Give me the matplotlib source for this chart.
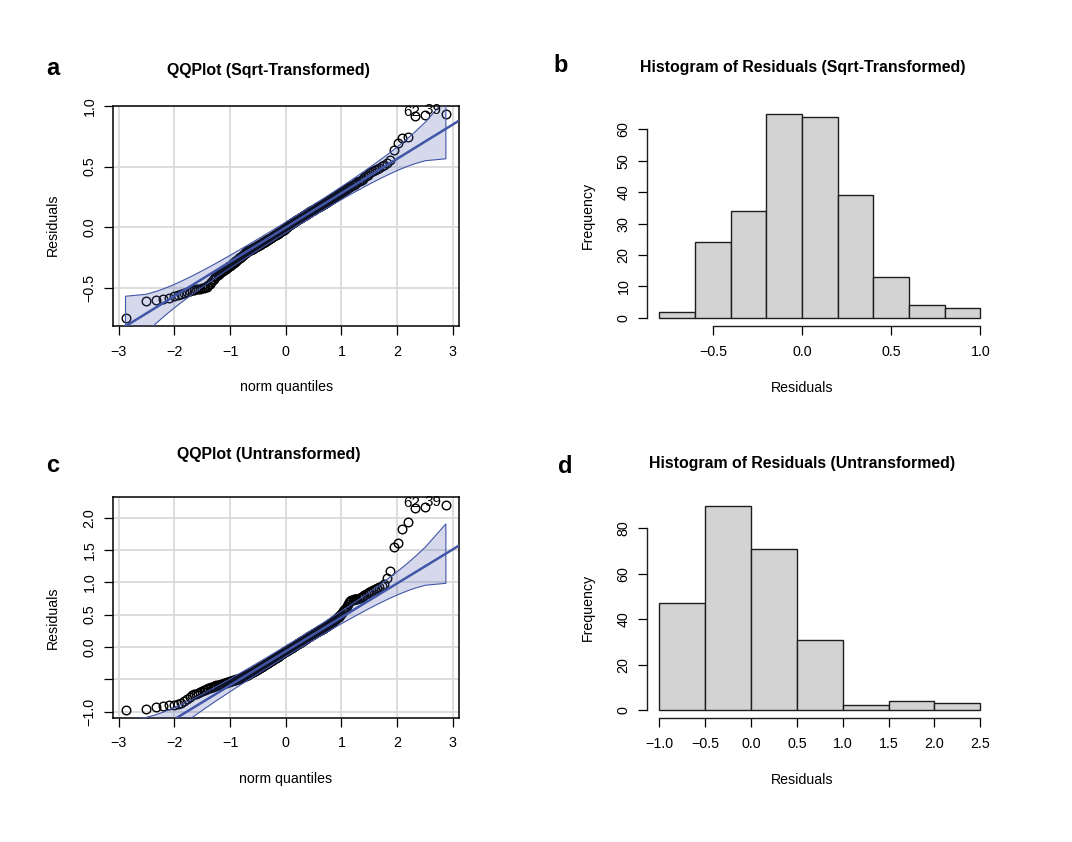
import numpy as np
import matplotlib
matplotlib.use('Agg')
import matplotlib.pyplot as plt
from matplotlib.colors import to_rgba
from matplotlib.ticker import FuncFormatter
from statistics import NormalDist

plt.rcParams['font.family'] = ['Liberation Sans', 'DejaVu Sans']

# ---------------- data (sorted residuals) ----------------
resid_sqrt = [
    -0.746, -0.607,
    -0.598, -0.592, -0.582, -0.570, -0.560, -0.550, -0.540, -0.532, -0.526, -0.520,
    -0.515, -0.511, -0.508, -0.505, -0.502, -0.498, -0.494, -0.488, -0.478, -0.466,
    -0.452, -0.438, -0.422, -0.408,
    -0.398, -0.391, -0.384, -0.377, -0.370, -0.364, -0.358, -0.352, -0.346, -0.340,
    -0.334, -0.328, -0.322, -0.316, -0.310, -0.304, -0.298, -0.292, -0.286, -0.280,
    -0.274, -0.268, -0.262, -0.257, -0.252, -0.247, -0.242, -0.237, -0.232, -0.227,
    -0.222, -0.216, -0.208, -0.201,
    -0.198, -0.195, -0.192, -0.190, -0.187, -0.184, -0.181, -0.178, -0.175, -0.172,
    -0.169, -0.166, -0.163, -0.160, -0.157, -0.154, -0.151, -0.148, -0.145, -0.142,
    -0.139, -0.136, -0.133, -0.130, -0.127, -0.124, -0.121, -0.118, -0.115, -0.112,
    -0.109, -0.106, -0.103, -0.100, -0.097, -0.094, -0.091, -0.088, -0.085, -0.082,
    -0.079, -0.076, -0.073, -0.070, -0.067, -0.064, -0.061, -0.058, -0.055, -0.052,
    -0.049, -0.046, -0.043, -0.040, -0.037, -0.034, -0.031, -0.028, -0.025, -0.022,
    -0.019, -0.016, -0.013, -0.010, -0.006,
    0.003, 0.006, 0.009, 0.012, 0.015, 0.019, 0.022, 0.025, 0.028, 0.031,
    0.034, 0.037, 0.040, 0.043, 0.046, 0.049, 0.052, 0.056, 0.059, 0.062,
    0.065, 0.068, 0.071, 0.074, 0.077, 0.080, 0.083, 0.086, 0.089, 0.093,
    0.096, 0.099, 0.102, 0.105, 0.108, 0.111, 0.114, 0.117, 0.120, 0.123,
    0.127, 0.130, 0.133, 0.136, 0.139, 0.142, 0.145, 0.148, 0.151, 0.154,
    0.157, 0.161, 0.164, 0.167, 0.170, 0.173, 0.176, 0.179, 0.182, 0.185,
    0.188, 0.191, 0.194, 0.198,
    0.203, 0.207, 0.211, 0.215, 0.219, 0.223, 0.227, 0.231, 0.235, 0.240,
    0.244, 0.249, 0.253, 0.258, 0.262, 0.267, 0.272, 0.277, 0.282, 0.287,
    0.292, 0.297, 0.302, 0.307, 0.312, 0.318, 0.323, 0.329, 0.334, 0.340,
    0.346, 0.352, 0.358, 0.364, 0.370, 0.377, 0.384, 0.391, 0.398,
    0.410, 0.422, 0.433, 0.443, 0.452, 0.461, 0.470, 0.480, 0.490, 0.502,
    0.515, 0.530, 0.552,
    0.640, 0.690, 0.739, 0.745,
    0.915, 0.921, 0.934,
]

resid_raw = [
    -0.968, -0.955, -0.935, -0.908, -0.900, -0.893, -0.880, -0.862, -0.830, -0.800,
    -0.770, -0.750, -0.735, -0.720, -0.705, -0.690, -0.678, -0.668, -0.660, -0.648,
    -0.640, -0.632, -0.624, -0.615, -0.608, -0.602, -0.596, -0.591, -0.586, -0.582,
    -0.577, -0.572, -0.567, -0.562, -0.557, -0.552, -0.547, -0.542, -0.537, -0.532,
    -0.527, -0.522, -0.518, -0.514, -0.510, -0.506, -0.502,
    -0.498, -0.493, -0.488, -0.483, -0.478, -0.473, -0.468, -0.463, -0.458, -0.452,
    -0.447, -0.442, -0.437, -0.432, -0.427,
    -0.421, -0.415, -0.409, -0.404, -0.398, -0.392, -0.386, -0.380, -0.375, -0.369,
    -0.363, -0.357, -0.351, -0.346, -0.340, -0.334, -0.328, -0.322, -0.317, -0.311,
    -0.305, -0.299, -0.293, -0.288, -0.282, -0.276, -0.270, -0.264, -0.259, -0.253,
    -0.247, -0.241, -0.235, -0.230, -0.224, -0.218, -0.212, -0.206, -0.201, -0.195,
    -0.189, -0.183, -0.177, -0.172, -0.166, -0.160, -0.154, -0.148, -0.143, -0.137,
    -0.131, -0.125, -0.119, -0.114, -0.108, -0.102, -0.096, -0.090, -0.085, -0.079,
    -0.073, -0.067,
    -0.062, -0.057, -0.052, -0.047, -0.042, -0.037, -0.032, -0.027, -0.022, -0.017,
    -0.012, -0.007, -0.002,
    0.004, 0.010, 0.016, 0.021, 0.027, 0.033, 0.039, 0.045, 0.051, 0.057,
    0.062, 0.068, 0.074, 0.080, 0.086, 0.092, 0.098, 0.103, 0.109, 0.115,
    0.121, 0.127, 0.133, 0.139, 0.144, 0.150, 0.156, 0.162, 0.168, 0.174,
    0.180, 0.185, 0.191, 0.197, 0.203, 0.209, 0.215, 0.220, 0.226, 0.232,
    0.238, 0.244, 0.250, 0.256, 0.261, 0.267, 0.273, 0.279, 0.285,
    0.292, 0.299, 0.306, 0.313, 0.321, 0.329, 0.337, 0.345, 0.354, 0.363,
    0.372, 0.381, 0.391, 0.401, 0.411, 0.422, 0.433, 0.444, 0.456, 0.468,
    0.482, 0.497,
    0.510, 0.530, 0.550, 0.570, 0.590, 0.610, 0.630, 0.660, 0.690, 0.710,
    0.725, 0.730, 0.735, 0.738, 0.742, 0.746, 0.750, 0.760, 0.775, 0.790,
    0.805, 0.820, 0.835, 0.850, 0.865, 0.880, 0.895, 0.910, 0.930, 0.950,
    0.970,
    1.074, 1.177,
    1.552, 1.605, 1.826, 1.940,
    2.145, 2.170, 2.189,
]

# labelled (most extreme) observations: rank in sorted order -> observation id
id_ranks = [247, 248]
id_labels = ['62', '39']

hist_sqrt_edges = [-0.8, -0.6, -0.4, -0.2, 0.0, 0.2, 0.4, 0.6, 0.8, 1.0]
hist_sqrt_counts = [2, 24, 34, 65, 64, 39, 13, 4, 3]
hist_raw_edges = [-1.0, -0.5, 0.0, 0.5, 1.0, 1.5, 2.0, 2.5]
hist_raw_counts = [47, 90, 71, 31, 2, 4, 3]

qq_xticks = [-3, -2, -1, 0, 1, 2, 3]
qq_sqrt_yticks = [-0.5, 0.0, 0.5, 1.0]
qq_raw_yticks = [-1.0, -0.5, 0.0, 0.5, 1.0, 1.5, 2.0]
qq_raw_hidden_labels = [-0.5]
hist_sqrt_xticks = [-0.5, 0.0, 0.5, 1.0]
hist_sqrt_yticks = [0, 10, 20, 30, 40, 50, 60]
hist_raw_xticks = [-1.0, -0.5, 0.0, 0.5, 1.0, 1.5, 2.0, 2.5]
hist_raw_yticks = [0, 20, 40, 60, 80]

titles = ['QQPlot (Sqrt-Transformed)', 'Histogram of Residuals (Sqrt-Transformed)',
          'QQPlot (Untransformed)', 'Histogram of Residuals (Untransformed)']

# ---------------- style ----------------
W, H = 1072, 842
LINE = '#4256a8'
GRID = '#dadada'
TICK_FS = 10.3
LAB_FS = 10.2
TITLE_FS = 11.4
LET_FS = 17

fig = plt.figure(figsize=(W / 100, H / 100), dpi=100)


def rect(l, t, r, b):
    return [l / W, 1 - b / H, (r - l) / W, (b - t) / H]


def fx(x):
    return x / W


def fy(y):
    return 1 - y / H


def minus_fmt(fmt):
    return FuncFormatter(lambda v, p: fmt.format(v).replace('-', '\u2212'))


def quantile7(x, p):
    x = np.sort(x)
    h = (len(x) - 1) * p
    lo = int(np.floor(h))
    hi = min(lo + 1, len(x) - 1)
    return x[lo] + (h - lo) * (x[hi] - x[lo])


def style_ticks(ax):
    ax.tick_params(direction='out', length=6.5, width=0.9, labelsize=TICK_FS,
                   pad=7, colors='black')
    ax.tick_params(axis='y', labelrotation=90, pad=5)
    for lbl in ax.get_yticklabels():
        lbl.set_va('center')


def qqpanel(ax, resid, yticks, hidden=()):
    y = np.sort(np.asarray(resid, dtype=float))
    n = len(y)
    P = (np.arange(1, n + 1) - 0.5) / n
    nd = NormalDist()
    z = np.array([nd.inv_cdf(p) for p in P])
    dens = np.array([nd.pdf(v) for v in z])
    # quartile reference line
    q1, q3 = quantile7(y, 0.25), quantile7(y, 0.75)
    z1, z3 = nd.inv_cdf(0.25), nd.inv_cdf(0.75)
    b = (q3 - q1) / (z3 - z1)
    a = q1 - b * z1
    zz = nd.inv_cdf(0.975)
    se = (b / dens) * np.sqrt(P * (1 - P) / n)
    fit = a + b * z
    upper, lower = fit + zz * se, fit - zz * se

    xr = z.max() - z.min()
    yr = y.max() - y.min()
    ax.set_xlim(z.min() - 0.04 * xr, z.max() + 0.04 * xr)
    ax.set_ylim(y.min() - 0.04 * yr, y.max() + 0.04 * yr)
    ax.set_xticks(qq_xticks)
    ax.set_yticks(yticks)
    ax.xaxis.set_major_formatter(minus_fmt('{:.0f}'))
    ax.yaxis.set_major_formatter(FuncFormatter(
        lambda v, p: '' if any(abs(v - h) < 1e-9 for h in hidden)
        else '{:.1f}'.format(v).replace('-', '\u2212')))
    ax.grid(True, color=GRID, lw=1.3, zorder=0)
    ax.set_axisbelow(True)

    ax.plot(z, y, 'o', mfc='none', mec='black', ms=6.2, mew=1.0, zorder=2)
    ax.axline((0, a), slope=b, color=LINE, lw=1.8, zorder=3)
    ax.fill(np.r_[z, z[::-1]], np.r_[upper, lower[::-1]],
            facecolor=to_rgba(LINE, 0.22), edgecolor=LINE, lw=0.8, zorder=4)
    for rank, lab in zip(id_ranks, id_labels):
        ax.annotate(lab, (z[rank - 1], y[rank - 1]), xytext=(-3.5, 2.5),
                    textcoords='offset points', ha='right', va='center',
                    fontsize=11, zorder=5, annotation_clip=False)
    for s in ax.spines.values():
        s.set_linewidth(1.1)
        s.set_color('black')
    style_ticks(ax)


def histpanel(ax, edges, counts, xticks, yticks):
    edges = np.asarray(edges, dtype=float)
    counts = np.asarray(counts, dtype=float)
    ax.bar(edges[:-1], counts, width=np.diff(edges), align='edge',
           color='#d3d3d3', edgecolor='#1e1e1e', lw=1.0)
    xr = edges[-1] - edges[0]
    ax.set_xlim(edges[0] - 0.04 * xr, edges[-1] + 0.04 * xr)
    ym = counts.max()
    ax.set_ylim(-0.04 * ym, ym * 1.04)
    for s in ['top', 'right']:
        ax.spines[s].set_visible(False)
    for s in ['left', 'bottom']:
        ax.spines[s].set_linewidth(1.0)
        ax.spines[s].set_color('#1e1e1e')
    ax.spines['left'].set_bounds(yticks[0], yticks[-1])
    ax.spines['bottom'].set_bounds(xticks[0], xticks[-1])
    ax.set_xticks(xticks)
    ax.set_yticks(yticks)
    ax.xaxis.set_major_formatter(minus_fmt('{:.1f}'))
    ax.yaxis.set_major_formatter(minus_fmt('{:.0f}'))
    style_ticks(ax)


ax_a = fig.add_axes(rect(112.7, 105.7, 458.7, 326.0))
ax_b = fig.add_axes(rect(646.5, 105.5, 993.1, 326.0))
ax_c = fig.add_axes(rect(112.7, 497.3, 458.7, 717.7))
ax_d = fig.add_axes(rect(646.5, 497.4, 993.1, 718.2))

qqpanel(ax_a, resid_sqrt, qq_sqrt_yticks)
qqpanel(ax_c, resid_raw, qq_raw_yticks, hidden=qq_raw_hidden_labels)
histpanel(ax_b, hist_sqrt_edges, hist_sqrt_counts, hist_sqrt_xticks, hist_sqrt_yticks)
histpanel(ax_d, hist_raw_edges, hist_raw_counts, hist_raw_xticks, hist_raw_yticks)

# titles
fig.text(fx(268.8), fy(75.5), titles[0], ha='center', va='baseline',
         fontsize=TITLE_FS, fontweight='bold')
fig.text(fx(802.5), fy(72.0), titles[1], ha='center', va='baseline',
         fontsize=TITLE_FS, fontweight='bold')
fig.text(fx(269.0), fy(458.5), titles[2], ha='center', va='baseline',
         fontsize=TITLE_FS, fontweight='bold')
fig.text(fx(802.0), fy(468.0), titles[3], ha='center', va='baseline',
         fontsize=TITLE_FS, fontweight='bold')

# panel letters
for letter, (lx, ly) in zip('abcd', [(46.5, 75.0), (553.0, 72.0), (46.5, 471.7), (558.0, 472.5)]):
    fig.text(fx(lx), fy(ly), letter, ha='left', va='baseline',
             fontsize=LET_FS, fontweight='bold')

# axis labels
fig.text(fx(286.2), fy(390.8), 'norm quantiles', ha='center', va='baseline', fontsize=LAB_FS)
fig.text(fx(802.5), fy(392.0), 'Residuals', ha='center', va='baseline', fontsize=LAB_FS)
fig.text(fx(286.0), fy(782.5), 'norm quantiles', ha='center', va='baseline', fontsize=LAB_FS)
fig.text(fx(802.0), fy(783.5), 'Residuals', ha='center', va='baseline', fontsize=LAB_FS)

fig.text(fx(52.5), fy(225.0), 'Residuals', ha='center', va='center', rotation=90, fontsize=LAB_FS)
fig.text(fx(52.5), fy(617.5), 'Residuals', ha='center', va='center', rotation=90, fontsize=LAB_FS)
fig.text(fx(587.5), fy(215.8), 'Frequency', ha='center', va='center', rotation=90, fontsize=LAB_FS)
fig.text(fx(587.5), fy(607.5), 'Frequency', ha='center', va='center', rotation=90, fontsize=LAB_FS)

fig.savefig('out.png', dpi=100, facecolor='white')
